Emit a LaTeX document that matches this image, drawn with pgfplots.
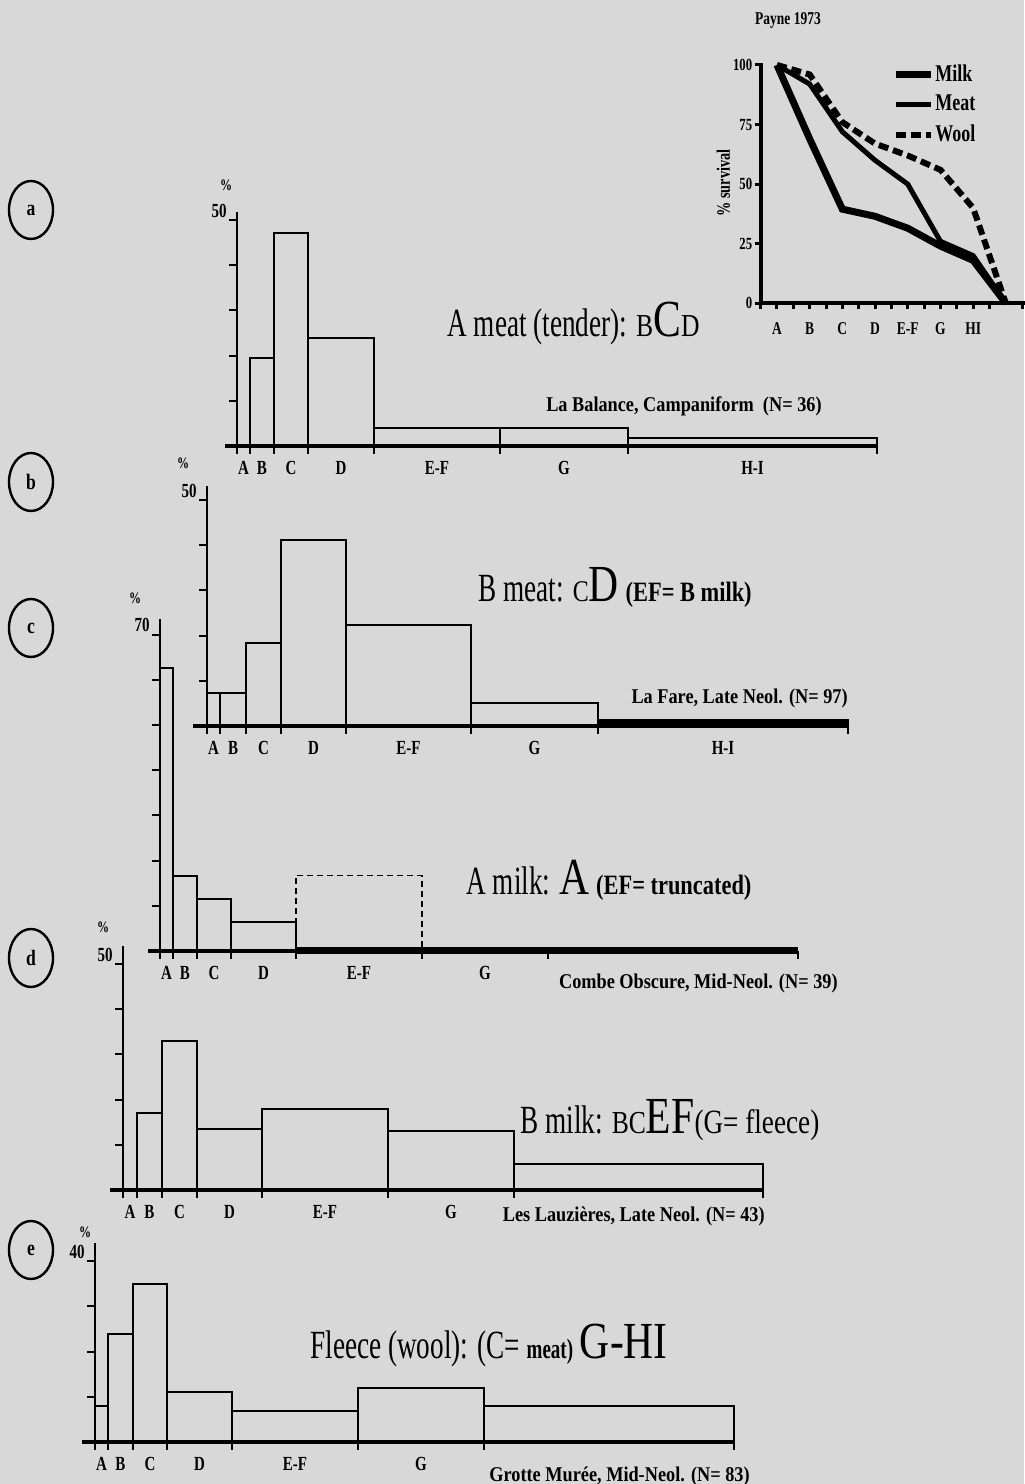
\documentclass[border=0pt]{standalone}
\usepackage{fontspec}
\usepackage{pgfplots}
\pgfplotsset{compat=1.18}
\usetikzlibrary{shapes.geometric}
\setmainfont{Liberation Serif}
\newfontfamily\cfa{Liberation Serif}[FakeStretch=0.68]
\newfontfamily\cfb{Liberation Serif}[FakeStretch=0.8]
\newfontfamily\cfs{Liberation Serif}[FakeStretch=0.87]
\newfontfamily\cft{Liberation Serif}[FakeStretch=0.75]
\definecolor{bg}{RGB}{216,216,216}
\newcommand{\fs}[1]{\fontsize{#1}{#1}\selectfont}
\newcommand{\tl}{\cft\bfseries\fs{10}}

\pgfplotsset{
  hist/.style={
    anchor=south west, scale only axis, x=0.5pt, y=2.26pt,
    xmin=0, ymin=0, clip=false,
    axis x line*=bottom, axis y line*=left,
    axis line style={-}, x axis line style={line width=2pt},
    y axis line style={line width=1pt},
    tick align=outside, major tick length=4pt,
    tick style={black, line width=1pt},
    x tick label as interval,
    ticklabel style={font=\tl},
    yticklabel style={anchor=south east, inner sep=1pt},
  },
  bars/.style={ybar interval, draw=black, fill=none, line width=1pt, line join=miter},
}

\begin{document}
\begin{tikzpicture}
\useasboundingbox (0,0) rectangle (512pt,742pt);
\fill[bg] (0,0) rectangle (512pt,742pt);

% (a) La Balance
\begin{axis}[hist, at={(118.5pt,519pt)}, xmax=640, ymax=51.7,
  xtick={0,13,37,71,137,263,391,640}, xticklabels={A,B,C,D,E-F,G,H-I},
  ytick={10,20,30,40,50}, yticklabels={,,,,50}]
\addplot[bars] coordinates {(0,0) (13,19.4) (37,47.2) (71,24) (137,3.9) (263,3.9) (391,1.8) (640,1.8)};
\addplot[line width=2pt] coordinates {(-12,0) (0,0)};
\end{axis}

% (b) La Fare
\begin{axis}[hist, at={(103.5pt,379pt)}, xmax=641, ymax=53,
  xtick={0,13,39,74,139,264,391,641}, xticklabels={A,B,C,D,E-F,G,H-I},
  ytick={10,20,30,40,50}, yticklabels={,,,,50}]
\addplot[bars] coordinates {(0,7.2) (13,7.2) (39,18.4) (74,41.2) (139,22.3) (264,5.1) (391,5.1)};
\addplot[ybar interval, draw=black, fill=black] coordinates {(391,1.5) (641,1.5)};
\addplot[line width=2pt] coordinates {(-14,0) (0,0)};
\end{axis}

% (c) Combe Obscure
\begin{axis}[hist, at={(80pt,266.5pt)}, xmax=638, ymax=73.4,
  xtick={0,13,37,71,136,262,388,638}, xticklabels={A,B,C,D,E-F,G,},
  ytick={10,20,30,40,50,60,70}, yticklabels={,,,,,,70}]
\addplot[bars] coordinates {(0,62.5) (13,16.7) (37,11.5) (71,6.4) (136,6.4)};
\addplot[ybar interval, draw=black, fill=none, densely dashed, line width=0.6pt] coordinates {(136,16.7) (262,16.7)};
\addplot[line width=3.5pt] coordinates {(136,0) (638,0)};
\addplot[line width=2pt] coordinates {(-12,0) (0,0)};
\end{axis}

% (d) Les Lauzieres
\begin{axis}[hist, at={(61.5pt,147pt)}, xmax=640, ymax=54,
  xtick={0,14,39,74,139,265,391,640}, xticklabels={A,B,C,D,E-F,G,},
  ytick={10,20,30,40,50}, yticklabels={,,,,50}]
\addplot[bars] coordinates {(0,0) (14,17.1) (39,32.9) (74,13.6) (139,17.9) (265,13) (391,5.7) (640,5.7)};
\addplot[line width=2pt] coordinates {(-13,0) (0,0)};
\end{axis}

% (e) Grotte Muree
\begin{axis}[hist, at={(47.5pt,21pt)}, xmax=639, ymax=44,
  xtick={0,13,38,72,137,263,389,639}, xticklabels={A,B,C,D,E-F,G,},
  ytick={10,20,30,40}, yticklabels={,,,40}]
\addplot[bars] coordinates {(0,8) (13,24) (38,35) (72,11) (137,6.9) (263,12) (389,8) (639,8)};
\addplot[line width=2pt] coordinates {(-13,0) (0,0)};
\end{axis}

% inset: Payne 1973 survival curves
\begin{axis}[anchor=south west, at={(380.3pt,590.35pt)}, scale only axis,
  x=16.35pt, y=1.1915pt, xmin=0.5, xmax=8.6, ymin=0, ymax=101,
  axis x line*=bottom, axis y line*=left, axis line style={-, line width=2pt},
  xtick={1,...,7}, xticklabels={A,B,C,D,E-F,G,HI},
  minor xtick={0.5,1.5,...,8.5},
  ytick={0,25,50,75,100},
  tick align=outside, major tick length=3pt, minor tick length=3pt,
  tick style={black, line width=1.5pt},
  xticklabel style={font=\cft\bfseries\fs{9}, yshift=-3pt},
  yticklabel style={font=\cft\bfseries\fs{8.5}, inner sep=1pt},
  /pgf/number format/assume math mode=true,
  ylabel={\% survival}, ylabel style={font=\cft\bfseries\fs{9.5}}, ylabel shift=-3pt,
  legend style={at={(axis cs:4.52,102)}, anchor=north west, draw=none, fill=none,
    font=\cft\bfseries\fs{12}, row sep=1.5pt, inner sep=0pt, nodes={inner xsep=0.5pt}},
  legend cell align=left,
  legend image code/.code={\draw[#1] (0pt,0pt) -- (17.5pt,0pt);},
  clip=false]
\addplot[line width=3.5pt] coordinates {(1,100) (2,69) (3,39.5) (4,36.5) (5,31.5) (6,24) (7,18) (8,0)};
\addplot[line width=2.5pt] coordinates {(1,100) (2,92) (3,72) (4,60) (5,50) (6,26) (7,20) (8,0)};
\addplot[line width=3pt, dash pattern=on 5pt off 2.5pt] coordinates {(1,100) (2,96) (3,76) (4,67) (5,62) (6,56) (7,40) (8,0)};
\legend{Milk,Meat,Wool}
\end{axis}
\node[font=\cft\bfseries\fs{9}] at (394pt,732pt) {Payne 1973};

% panel texts
\node[anchor=base west, inner sep=0] at (223.5pt,573.5pt) {\cfa\fs{20}A meat (tender): {\cfb\fs{16}B}{\cfb\fs{26}C}{\cfb\fs{16}D}};
\node[anchor=base east, inner sep=0] at (411pt,536.2pt) {\cfs\bfseries\fs{10.5}La Balance, Campaniform\ \ (N= 36)};

\node[anchor=base west, inner sep=0] at (239pt,441.2pt) {\cfa\fs{20}B meat: {\cfb\fs{15}C}{\cfb\fs{26}D} {\cfb\bfseries\fs{14}(EF= B milk)}};
\node[anchor=base east, inner sep=0] at (424pt,390.3pt) {\cfs\bfseries\fs{10.5}La Fare, Late Neol. (N= 97)};

\node[anchor=base west, inner sep=0] at (233pt,294.5pt) {\cfa\fs{20}A milk: {\cfb\fs{26}A} {\cfb\bfseries\fs{14}(EF= truncated)}};
\node[anchor=base east, inner sep=0] at (419pt,247.8pt) {\cfs\bfseries\fs{10.5}Combe Obscure, Mid-Neol. (N= 39)};

\node[anchor=base west, inner sep=0] at (260pt,175.3pt) {\cfa\fs{20}B milk: {\cfb\fs{16}BC}{\cfb\fs{26}EF}{\cfb\fs{17}(G= fleece)}};
\node[anchor=base east, inner sep=0] at (382.5pt,131.2pt) {\cfs\bfseries\fs{10.5}Les Lauzières, Late Neol. (N= 43)};

\node[anchor=base west, inner sep=0] at (155pt,62.8pt) {\cfa\fs{20}Fleece (wool): (C= {\bfseries\fs{14}meat)} {\cfb\fs{26}G-HI}};
\node[anchor=base east, inner sep=0] at (375pt,1.2pt) {\cfs\bfseries\fs{10.5}Grotte Murée, Mid-Neol. (N= 83)};

% percent signs
\foreach \X/\Y in {113/649.5, 91.5/510.5, 67.5/443, 51.5/278.5, 42.5/126}
  \node[font=\cft\bfseries\fs{8}] at (\X pt,\Y pt) {\%};

% panel letters
\foreach \Y/\L in {637/a, 501/b, 428/c, 263/d, 117/e}
  \node[draw, ellipse, line width=1.2pt, minimum width=22pt, minimum height=29pt,
        inner sep=0pt, font=\cfb\bfseries\fs{11}] at (15.5pt,\Y pt) {\L};
\end{tikzpicture}
\end{document}
